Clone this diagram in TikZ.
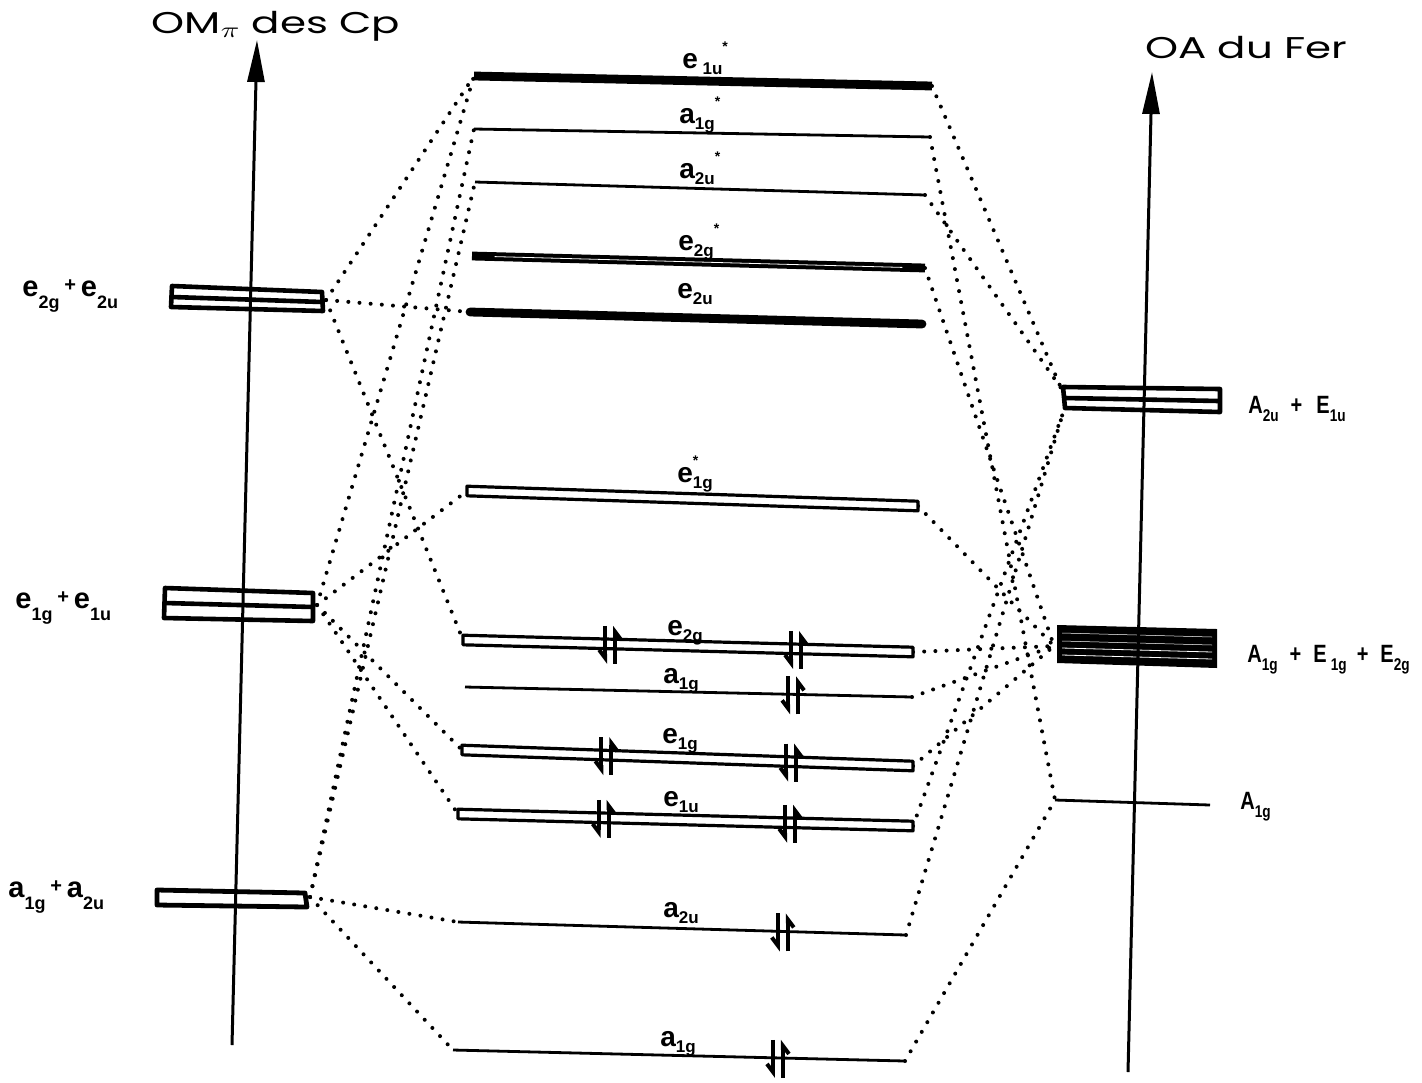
\documentclass[tikz,border=0pt]{standalone}
\usepackage{fontspec}
\setmainfont{Liberation Sans}
\newfontfamily\titfont{Poppins}
\newfontfamily\condfont[FakeStretch=0.8]{Liberation Sans}
\usetikzlibrary{arrows.meta,calc}
\newcommand\sbl[1]{\raisebox{-0.42em}{\fontsize{9}{9}\selectfont #1}}
\newcommand\sbc[1]{\raisebox{-0.22em}{\fontsize{8.5}{8.5}\selectfont #1}}
\newcommand\sbr[1]{\raisebox{-0.35em}{\fontsize{8.5}{8.5}\selectfont #1}}
\newcommand\sps{\raisebox{0.6em}{\fontsize{7}{7}\selectfont *}}
\newcommand\obarx[2]{\draw[obar] ([yshift=2.4pt]#1) -- ([yshift=2.4pt]#2) -- ([yshift=-2.4pt]#2) -- ([yshift=-2.4pt]#1) -- cycle;}
\newcommand\epr[3]{\coordinate (ep) at ($(#1)!#3!(#2)$);
  \draw[epline] ([xshift=-2.5pt,yshift=9pt]ep) -- ([xshift=-2.5pt,yshift=-10pt]ep);
  \draw[epline] ([xshift=2.5pt,yshift=-10pt]ep) -- ([xshift=2.5pt,yshift=9pt]ep);}
\begin{document}
\begin{tikzpicture}[x=0.5pt,y=-0.5pt, line join=round,
  conn/.style={line width=2pt, line cap=round, dash pattern=on 0pt off 5.6pt},
  solo/.style={line width=1.4pt},
  heavy/.style={line width=4.4pt},
  obar/.style={line width=1.6pt, fill=white},
  box/.style={line width=2.3pt},
  axisln/.style={line width=1.5pt, -{Triangle[length=21pt,width=8.5pt]}},
  epline/.style={line width=2pt, -{Straight Barb[right,length=4pt,width=6pt]}},
  mlab/.style={font=\bfseries\fontsize{14}{14}\selectfont, inner sep=0pt, anchor=base west},
  llab/.style={font=\bfseries\fontsize{14.5}{14.5}\selectfont, inner sep=0pt, anchor=base west},
  rlab/.style={font=\condfont\bfseries\fontsize{12.5}{12.5}\selectfont, inner sep=0pt, anchor=base west},
  tit/.style={font=\titfont\fontsize{15}{15}\selectfont, inner sep=0pt, anchor=base}]
\fill[white] (0,0) rectangle (1422,1082);
\useasboundingbox (0,0) rectangle (1422,1082);

% level end points
\coordinate (e1us-L) at (474,76);   \coordinate (e1us-R) at (932,86);
\coordinate (a1gs-L) at (474,129);  \coordinate (a1gs-R) at (930,137);
\coordinate (a2us-L) at (475,182);  \coordinate (a2us-R) at (925,195);
\coordinate (e2gs-L) at (472,256);  \coordinate (e2gs-R) at (925,268);
\coordinate (e2u-L)  at (470,312);  \coordinate (e2u-R)  at (922,324);
\coordinate (e1gs-L) at (467,491);  \coordinate (e1gs-R) at (918,506);
\coordinate (e2g-L)  at (463,640);  \coordinate (e2g-R)  at (913,652);
\coordinate (a1g-L)  at (465,687);  \coordinate (a1g-R)  at (912,697);
\coordinate (e1g-L)  at (462,750);  \coordinate (e1g-R)  at (913,766);
\coordinate (e1u-L)  at (458,814);  \coordinate (e1u-R)  at (913,826);
\coordinate (a2u-L)  at (458,922);  \coordinate (a2u-R)  at (906,935);
\coordinate (a1gb-L) at (453,1050); \coordinate (a1gb-R) at (905,1061);
% ports of the outer levels
\coordinate (Le2) at (326,300);
\coordinate (Le1) at (317,605);
\coordinate (La1) at (310,897);
\coordinate (A2T) at (1061,388);
\coordinate (A2B) at (1063,413);
\coordinate (dL)  at (1054,646);
\coordinate (A1L) at (1055,800);
\coordinate (A1R) at (1210,805);
% axes
\coordinate (axL0) at (232,1045); \coordinate (axL1) at (257,40);
\coordinate (axR0) at (1128,1072); \coordinate (axR1) at (1152,72);

% connectors
\draw[conn] (Le2) -- (e1us-L);
\draw[conn] (Le2) -- (e2u-L);
\draw[conn] (Le2) -- (e2g-L);
\draw[conn] (Le1) -- (e1us-L);
\draw[conn] (Le1) -- (e1gs-L);
\draw[conn] (Le1) -- (e1g-L);
\draw[conn] (Le1) -- (e1u-L);
\draw[conn] (La1) -- (a1gs-L);
\draw[conn] (La1) -- (a2us-L);
\draw[conn] (La1) -- (a2u-L);
\draw[conn] (La1) -- (a1gb-L);
\draw[conn] (e1us-R) -- (A2T);
\draw[conn] (a2us-R) -- (A2T);
\draw[conn] (a1gs-R) -- (A1L);
\draw[conn] (e2gs-R) -- (dL);
\draw[conn] (e1gs-R) -- (dL);
\draw[conn] (e2g-R) -- (dL);
\draw[conn] (a1g-R) -- (dL);
\draw[conn] (e1g-R) -- (dL);
\draw[conn] (e1u-R) -- (A2B);
\draw[conn] (a2u-R) -- (A2B);
\draw[conn] (a1gb-R) -- (A1L);

% central levels
\draw[heavy] (e1us-L) -- (e1us-R);
\draw[solo] (a1gs-L) -- (a1gs-R);
\draw[solo] (a2us-L) -- (a2us-R);
\draw[heavy] (e2gs-L) -- (e2gs-R);
\draw[white, line width=0.4pt] ($(e2gs-L)!0.05!(e2gs-R)$) -- ($(e2gs-L)!0.95!(e2gs-R)$);
\draw[heavy, line cap=round] (e2u-L) -- (e2u-R);
\obarx{e1gs-L}{e1gs-R}
\obarx{e2g-L}{e2g-R}
\draw[solo] (a1g-L) -- (a1g-R);
\obarx{e1g-L}{e1g-R}
\obarx{e1u-L}{e1u-R}
\draw[solo] (a2u-L) -- (a2u-R);
\draw[solo] (a1gb-L) -- (a1gb-R);

% electron pairs
\epr{e2g-L}{e2g-R}{0.327} \epr{e2g-L}{e2g-R}{0.74}
\epr{a1g-L}{a1g-R}{0.734}
\epr{e1g-L}{e1g-R}{0.32} \epr{e1g-L}{e1g-R}{0.73}
\epr{e1u-L}{e1u-R}{0.32} \epr{e1u-L}{e1u-R}{0.73}
\epr{a2u-L}{a2u-R}{0.725}
\epr{a1gb-L}{a1gb-R}{0.719}

% ligand levels (left)
\draw[box] (172,286) -- (322,292) -- (323,311) -- (171,307) -- cycle;
\draw[box] (172,297) -- (322,302);
\draw[box] (165,588) -- (313,593) -- (313,621) -- (164,618) -- cycle;
\draw[box] (165,603) -- (313,607);
\draw[box, line width=2.4pt] (157,890) -- (305,893) -- (307,907) -- (157,905) -- cycle;

% metal levels (right)
\draw[box] (1063,387) -- (1220,389) -- (1220,412) -- (1065,408) -- cycle;
\draw[box] (1065,398) -- (1219,401);
\fill (1057,625) -- (1217,629) -- (1217,668) -- (1057,663) -- cycle;
\draw[white, line width=0.25pt] (1062,633) -- (1212,637);
\draw[white, line width=0.25pt] (1062,641) -- (1212,645);
\draw[white, line width=0.4pt] (1062,648) -- (1212,652);
\draw[white, line width=0.4pt] (1062,655) -- (1212,659);
\draw[solo] (A1L) -- (A1R);

% axes
\draw[axisln] (axL0) -- (axL1);
\draw[axisln] (axR0) -- (axR1);

% titles
\node[tit] (t1) at (276,33) {\scalebox{1.4}[1]{OM$_{\pi}$ des Cp}};
\node[tit] (t2) at (1246,58) {\scalebox{1.4}[1]{OA du Fer}};

% left labels
\node[llab] (l1) at (22,296) {e\sbl{2g}\,{\fontsize{10}{10}\selectfont\raisebox{0.25em}{+}}\,e\sbl{2u}};
\node[llab] (l2) at (15,608) {e\sbl{1g}\,{\fontsize{10}{10}\selectfont\raisebox{0.25em}{+}}\,e\sbl{1u}};
\node[llab] (l3) at (8,897) {a\sbl{1g}\,{\fontsize{10}{10}\selectfont\raisebox{0.25em}{+}}\,a\sbl{2u}};

% central labels
\node[mlab] (m1) at (682,68) {e\,\sbc{1u}\sps};
\node[mlab] (m2) at (679,123) {a\sbc{1g}\sps};
\node[mlab] (m3) at (679,178) {a\sbc{2u}\sps};
\node[mlab] (m4) at (678,250) {e\sbc{2g}\sps};
\node[mlab] (m5) at (677,298) {e\sbc{2u}};
\node[mlab] (m6) at (677,482) {e\rlap{\sps}\sbc{1g}};
\node[mlab] (m7) at (667,635) {e\sbc{2g}};
\node[mlab] (m8) at (663,683) {a\sbc{1g}};
\node[mlab] (m9) at (662,743) {e\sbc{1g}};
\node[mlab] (m10) at (663,806) {e\sbc{1u}};
\node[mlab] (m11) at (663,917) {a\sbc{2u}};
\node[mlab] (m12) at (660,1046) {a\sbc{1g}};

% right labels
\node[rlab] (r1) at (1248,413) {A\sbr{2u}\hspace{6pt}+\hspace{7pt}E\sbr{1u}};
\node[rlab] (r2) at (1247,662) {A\sbr{1g}\hspace{6pt}+\hspace{6pt}E\,\sbr{1g}\hspace{5pt}+\hspace{6pt}E\sbr{2g}};
\node[rlab] (r3) at (1240,809) {A\sbr{1g}};
\end{tikzpicture}
\end{document}
